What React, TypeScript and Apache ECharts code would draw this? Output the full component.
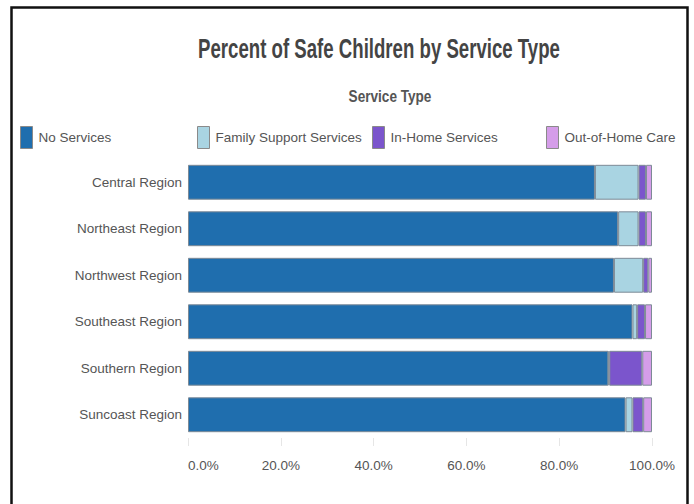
import React, { useEffect, useRef } from "react";
import * as echarts from "echarts";

const regions = ["Central Region", "Northeast Region", "Northwest Region", "Southeast Region", "Southern Region", "Suncoast Region"];
const seriesNames = ["No Services", "Family Support Services", "In-Home Services", "Out-of-Home Care"];
const noServices = [87.7, 92.7, 91.8, 95.8, 90.6, 94.3];
const familySupport = [9.4, 4.4, 6.3, 1.0, 0.2, 1.5];
const inHome = [1.6, 1.6, 1.1, 1.7, 7.1, 2.3];
const outOfHome = [1.3, 1.3, 0.8, 1.5, 2.1, 1.9];
const seriesColors = ["#1f6eae", "#a9d4e2", "#7b55cc", "#d59de9"];
const xTicks = [0, 20, 40, 60, 80, 100];
const titleText = "Percent of Safe Children by Service Type";
const subtitleText = "Service Type";

const FONT = "'Liberation Sans', Arial, sans-serif";

export default function App() {
  const ref = useRef<HTMLDivElement>(null);
  useEffect(() => {
    if (!ref.current) return;
    const chart = echarts.init(ref.current, undefined, { renderer: "svg" });
    const values = [noServices, familySupport, inHome, outOfHome];
    const legendLefts = [15, 192, 367, 541];
    chart.setOption({
      animation: false,
      backgroundColor: "#ffffff",
      textStyle: { fontFamily: FONT },
      legend: seriesNames.map((n, i) => ({
        data: [n],
        left: legendLefts[i],
        top: 121,
        itemWidth: 12,
        itemHeight: 22,
        itemGap: 8,
        icon: "rect",
        selectedMode: false,
        itemStyle: { borderColor: "#8a8a8a", borderWidth: 1 },
        textStyle: { fontFamily: FONT, fontSize: 13.5, color: "#555555", padding: [0, 0, 0, 1] },
      })),
      grid: { left: 188, right: 42, top: 159, bottom: 66, containLabel: false },
      xAxis: {
        type: "value",
        min: 0,
        max: 100,
        interval: 20,
        axisLine: { show: false },
        axisTick: { show: true, length: 8, lineStyle: { color: "#e6e6e6" } },
        splitLine: { show: false },
        axisLabel: {
          formatter: (v: number) => (xTicks.includes(v) ? v.toFixed(1) + "%" : ""),
          fontFamily: FONT,
          fontSize: 13.5,
          color: "#555555",
          margin: 20,
          alignMinLabel: "left",
        },
      },
      yAxis: {
        type: "category",
        data: regions,
        inverse: true,
        axisLine: { show: false },
        axisTick: { show: false },
        axisLabel: { fontFamily: FONT, fontSize: 13.5, color: "#555555", margin: 6 },
      },
      series: seriesNames.map((n, i) => ({
        name: n,
        type: "bar",
        stack: "total",
        data: values[i],
        barCategoryGap: "25%",
        itemStyle: { color: seriesColors[i], borderColor: "#7d8a96", borderWidth: 1 },
      })),
      graphic: [
        {
          type: "text",
          x: 379,
          y: 49,
          scaleX: 0.69,
          style: {
            text: titleText,
            font: "bold 27px 'Liberation Sans', Arial, sans-serif",
            fill: "#444444",
            textAlign: "center",
            textVerticalAlign: "middle",
          },
        },
        {
          type: "text",
          x: 390,
          y: 96,
          scaleX: 0.8,
          style: {
            text: subtitleText,
            font: "bold 17px 'Liberation Sans', Arial, sans-serif",
            fill: "#555555",
            textAlign: "center",
            textVerticalAlign: "middle",
          },
        },
        {
          type: "rect",
          shape: { x: 11.5, y: 7.5, width: 676, height: 530 },
          style: { fill: "none", stroke: "#111111", lineWidth: 2.5 },
          z: 100,
        },
      ],
    });
    return () => chart.dispose();
  }, []);
  return <div ref={ref} style={{ position: "fixed", left: 0, top: 0, width: 694, height: 504 }} />;
}
